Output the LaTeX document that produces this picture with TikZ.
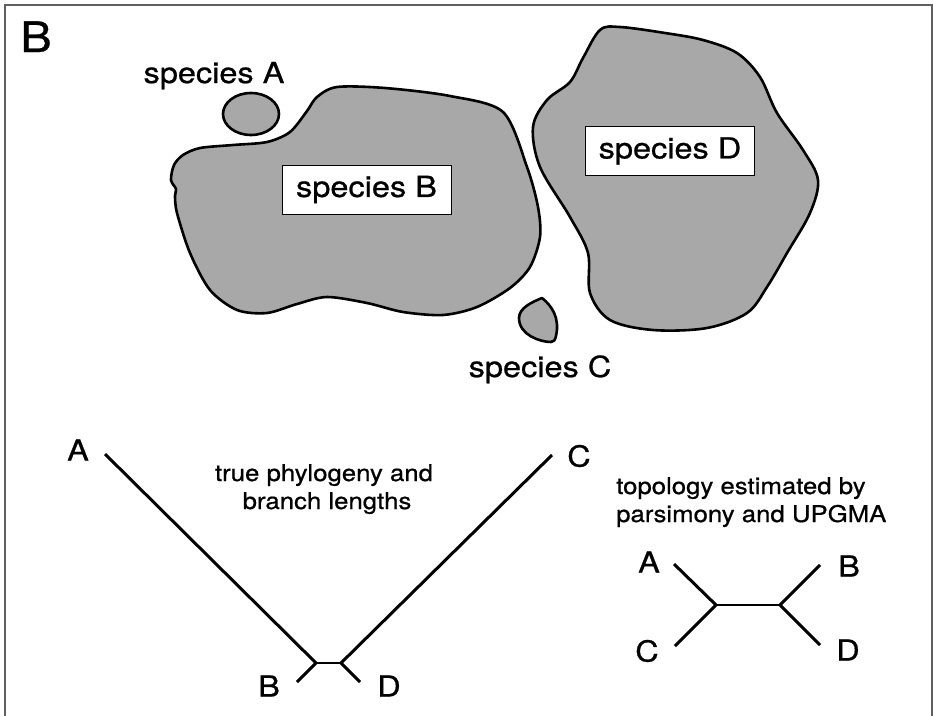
\documentclass[tikz,border=0pt]{standalone}
\usepackage{fontspec}
\setmainfont{TeX Gyre Heros}[FakeStretch=1.12,FakeBold=0.7]
\definecolor{blobgray}{RGB}{168,168,168}
\definecolor{framegray}{RGB}{95,95,95}
\begin{document}
\begin{tikzpicture}[x=1pt,y=-1pt,
  blobshape/.style={draw=black, fill=blobgray, line width=2.6pt, line join=round},
  branch/.style={line width=3pt},
  thinbranch/.style={line width=2pt},
  splabel/.style={font=\fontsize{29}{34}\selectfont, anchor=base, inner sep=0},
  tiplabel/.style={font=\fontsize{29}{34}\selectfont, inner sep=0},
  notetext/.style={font=\fontsize{23}{28}\selectfont, inner sep=0},
  namebox/.style={draw=black, line width=1pt, fill=white, minimum width=169pt, minimum height=49pt, inner sep=0, font=\fontsize{29}{34}\selectfont},
  panellabel/.style={font=\fontsize{42}{48}\selectfont, anchor=base, inner sep=0}
]
\useasboundingbox (0,0) rectangle (933,715);
\fill[white] (0,0) rectangle (933,715);
\draw[framegray, line width=1.8pt] (5,720) -- (5,5) -- (932,5) -- (932,720);

\node[panellabel] (panel) at (36,52) {B};

% species ranges
\draw[blobshape] (251,114) ellipse [x radius=28, y radius=21];
\draw[blobshape] plot[smooth cycle, tension=0.5] coordinates {
  (317,97) (337,87) (385,88) (450,96) (503,112) (527,167) (538,207) (540,237)
  (530,267) (510,288) (477,307) (443,315) (403,312) (367,303) (327,297) (297,304)
  (267,313) (237,310) (210,290) (190,253) (177,213) (175,196) (176,189) (171,180)
  (174,165) (183,155) (200,148) (233,145) (267,142) (290,132) (307,111)};
\draw[blobshape] plot[smooth cycle, tension=0.55] coordinates {
  (600,30) (620,27) (665,33) (703,40) (737,53) (760,77) (777,113) (803,150)
  (818,180) (810,213) (787,253) (767,287) (747,313) (707,328) (653,330) (610,320)
  (590,293) (588,253) (570,217) (540,167) (533,127) (547,100) (570,82) (583,58)};
\draw[blobshape] (542,298) .. controls (552,306) and (560,318) .. (556,336)
  .. controls (555,340) and (554,342) .. (551,342)
  .. controls (540,342) and (519,335) .. (519,318)
  .. controls (519,308) and (532,302) .. (542,298) -- cycle;

\node[splabel] (spA) at (214,83) {species A};
\node[splabel] (spC) at (540,377) {species C};
\node[namebox] (spB) at (366.5,189.5) {species B};
\node[namebox] (spD) at (670,151) {species D};

% true phylogeny
\coordinate (t1a) at (105,454);
\coordinate (t1c) at (552,455);
\coordinate (t1l) at (316,663);
\coordinate (t1r) at (341,663);
\coordinate (t1b) at (297,682);
\coordinate (t1d) at (360,682);
\draw[branch] (t1a) -- (t1l);
\draw[branch] (t1c) -- (t1r);
\draw[thinbranch] (t1l) -- (t1r);
\draw[branch] (t1l) -- (t1b);
\draw[branch] (t1r) -- (t1d);
\node[tiplabel] (lA1) at (78,450) {A};
\node[tiplabel] (lC1) at (579,456) {C};
\node[tiplabel] (lB1) at (269,686) {B};
\node[tiplabel] (lD1) at (389,686) {D};
\node[notetext, anchor=base] (n1a) at (324,481) {true phylogeny and};
\node[notetext, anchor=base] (n1b) at (327,509) {branch lengths};

% estimated topology
\coordinate (t2l) at (716,605);
\coordinate (t2r) at (780,605);
\coordinate (t2a) at (674,564);
\coordinate (t2c) at (675,646);
\coordinate (t2b) at (820,565);
\coordinate (t2d) at (820,645);
\draw[branch] (t2a) -- (t2l);
\draw[branch] (t2c) -- (t2l);
\draw[thinbranch] (t2l) -- (t2r);
\draw[branch] (t2r) -- (t2b);
\draw[branch] (t2r) -- (t2d);
\node[tiplabel] (lA2) at (649,562) {A};
\node[tiplabel] (lB2) at (849,566) {B};
\node[tiplabel] (lC2) at (647,651) {C};
\node[tiplabel] (lD2) at (848,650) {D};
\node[notetext, anchor=base west] (n2a) at (616,494) {topology estimated by};
\node[notetext, anchor=base west] (n2b) at (616,522) {parsimony and UPGMA};
\end{tikzpicture}
\end{document}
